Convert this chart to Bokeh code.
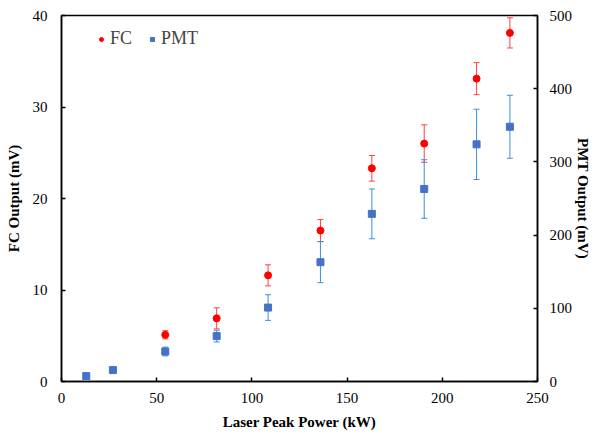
from bokeh.plotting import figure
from bokeh.models import (ColumnDataSource, Range1d, LinearAxis, Whisker, TeeHead,
                          Legend, LegendItem, FixedTicker)
from bokeh.embed import file_html
from bokeh.resources import INLINE

# Data
fc_power = [54.5, 81.5, 108.5, 136, 163, 190.5, 218, 235.5]
fc_out = [5.1, 6.9, 11.6, 16.5, 23.3, 26.0, 33.1, 38.1]
fc_err = [0.45, 1.15, 1.15, 1.2, 1.4, 2.05, 1.75, 1.65]

pmt_power = [13, 27, 54.5, 81.5, 108.5, 136, 163, 190.5, 218, 235.5]
pmt_out = [7.4, 15.6, 41, 62, 101, 163, 229, 263, 324, 348]
pmt_err = [0, 0, 6, 8, 17.5, 28, 34, 40, 48, 43]

FONT = "Liberation Serif"

W, H = 595, 434
p = figure(width=W, height=H, output_backend="svg", toolbar_location=None,
           x_range=Range1d(0, 250), y_range=Range1d(0, 40),
           min_border_left=61, min_border_right=W - 537,
           min_border_top=15, min_border_bottom=H - 381)
p.extra_y_ranges = {"pmt": Range1d(0, 500)}

p.xgrid.visible = False
p.ygrid.visible = False
p.outline_line_color = "black"
p.outline_line_width = 1.5
p.background_fill_color = "white"
p.border_fill_color = "white"

fc_src = ColumnDataSource(dict(x=fc_power, y=fc_out,
                               lo=[a - b for a, b in zip(fc_out, fc_err)],
                               hi=[a + b for a, b in zip(fc_out, fc_err)]))
pmt_src = ColumnDataSource(dict(x=pmt_power, y=pmt_out,
                                lo=[a - b for a, b in zip(pmt_out, pmt_err)],
                                hi=[a + b for a, b in zip(pmt_out, pmt_err)]))

fc_w = Whisker(source=fc_src, base="x", upper="hi", lower="lo", dimension="height",
               line_color="#ff4040", line_width=1,
               upper_head=TeeHead(size=6, line_color="#ff4040", line_width=1),
               lower_head=TeeHead(size=6, line_color="#ff4040", line_width=1))
pmt_w = Whisker(source=pmt_src, base="x", upper="hi", lower="lo", dimension="height",
                y_range_name="pmt", line_color="#3d8fd6", line_width=1,
                upper_head=TeeHead(size=6, line_color="#3d8fd6", line_width=1),
                lower_head=TeeHead(size=6, line_color="#3d8fd6", line_width=1))
p.add_layout(fc_w)
p.add_layout(pmt_w)

r_fc = p.scatter("x", "y", source=fc_src, marker="circle", size=7,
                 fill_color="#ff0000", line_color="#ff0000")
r_pmt = p.scatter("x", "y", source=pmt_src, marker="square", size=7,
                  fill_color="#4472c4", line_color="#4472c4", y_range_name="pmt")

def style_axis(ax):
    ax.major_tick_in = 4
    ax.major_tick_out = 0
    ax.minor_tick_line_color = None
    ax.axis_line_color = "black"
    ax.axis_line_width = 1.5
    ax.major_tick_line_width = 1.5
    ax.major_label_text_font = FONT
    ax.major_label_text_font_size = "15px"
    ax.major_label_text_color = "black"
    ax.axis_label_text_font = FONT
    ax.axis_label_text_font_size = "15px"
    ax.axis_label_text_font_style = "bold"
    ax.axis_label_text_color = "black"

xa = p.xaxis[0]
xa.ticker = FixedTicker(ticks=[0, 50, 100, 150, 200, 250])
xa.axis_label = "Laser Peak Power (kW)"
style_axis(xa)
xa.major_label_standoff = 11
xa.axis_label_standoff = 8

ya = p.yaxis[0]
ya.ticker = FixedTicker(ticks=[0, 10, 20, 30, 40])
ya.axis_label = "FC Output (mV)"
style_axis(ya)
ya.major_label_standoff = 14
ya.axis_label_standoff = 8

ra = LinearAxis(y_range_name="pmt", axis_label="PMT Output (mV)",
                ticker=FixedTicker(ticks=[0, 100, 200, 300, 400, 500]))
style_axis(ra)
ra.major_label_standoff = 12
ra.axis_label_standoff = 0
p.add_layout(ra, "right")

legend = Legend(items=[LegendItem(label="FC", renderers=[r_fc]),
                       LegendItem(label="PMT", renderers=[r_pmt])],
                orientation="horizontal", location=(35, 332),
                border_line_color=None, background_fill_alpha=0,
                label_text_font=FONT, label_text_font_size="18px",
                glyph_width=10, glyph_height=10, label_standoff=4, spacing=15,
                padding=0, margin=0)
p.add_layout(legend)

open("out.html", "w").write(file_html(p, INLINE))
